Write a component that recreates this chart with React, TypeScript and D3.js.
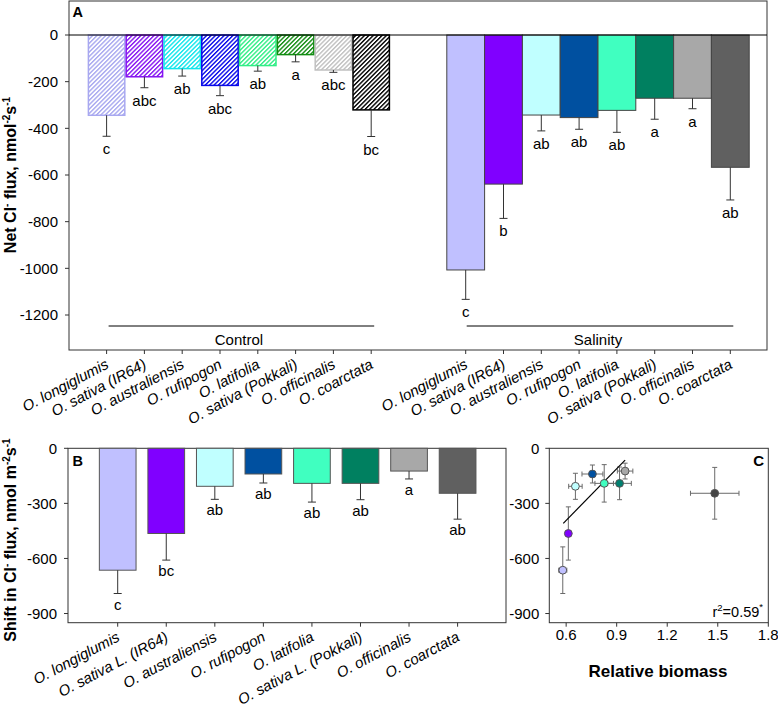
import React from 'react';
import * as d3 from 'd3';

const speciesA = ['O. longiglumis', 'O. sativa (IR64)', 'O. australiensis', 'O. rufipogon', 'O. latifolia', 'O. sativa (Pokkali)', 'O. officinalis', 'O. coarctata'];
const speciesB = ['O. longiglumis', 'O. sativa L. (IR64)', 'O. australiensis', 'O. rufipogon', 'O. latifolia', 'O. sativa L. (Pokkali)', 'O. officinalis', 'O. coarctata'];

const controlMean = [-344, -179, -144, -216, -131, -84, -150, -321];
const controlErr = [90, 47, 32, 44, 24, 31, 10, 114];
const controlLetters = ['c', 'abc', 'ab', 'abc', 'ab', 'a', 'abc', 'bc'];

const salinityMean = [-1007, -639, -343, -354, -323, -271, -271, -567];
const salinityErr = [126, 147, 68, 50, 94, 90, 45, 140];
const salinityLetters = ['c', 'b', 'ab', 'ab', 'ab', 'a', 'a', 'ab'];

const shiftMean = [-664, -464, -207, -140, -191, -191, -124, -245];
const shiftErr = [127, 145, 71, 49, 102, 89, 43, 141];
const shiftLetters = ['c', 'bc', 'ab', 'ab', 'ab', 'ab', 'a', 'ab'];

const biomass = [0.58, 0.613, 0.655, 0.756, 0.826, 0.917, 0.95, 1.482];
const biomassErr = [0.024, 0.01, 0.04, 0.062, 0.055, 0.07, 0.046, 0.144];

const regSlope = 940;
const regIntercept = -957;
const regRange = [0.583, 0.95];

const controlColors = ['#a8a8f0', '#8614f2', '#10e6ec', '#0808ea', '#30ee86', '#128c12', '#c0c0c0', '#000000'];
const salinityColors = ['#c0c0ff', '#8000ff', '#c0ffff', '#0050a0', '#40ffc0', '#008060', '#a8a8a8', '#606060'];
const dotColors = ['#c0c0ff', '#8000ff', '#c0ffff', '#0050a0', '#40ffc0', '#008070', '#a8a8a8', '#444444'];

const ticksA = [0, -200, -400, -600, -800, -1000, -1200];
const ticksB = [0, -300, -600, -900];
const ticksCx = [0.6, 0.9, 1.2, 1.5, 1.8];

const FONT = '"Liberation Sans", Arial, Helvetica, sans-serif';
const AX = '#333';

export default function App() {
  const W = 778, H = 709;

  // ---------- Panel A ----------
  const aL = 69, aR = 767, aT = 1, aB = 350;
  const yA = d3.scaleLinear().domain([-1350, 150]).range([aB, 0]);
  const xA = d3.scaleLinear().domain([0, 16.5]).range([106.6, 730.3]);
  const bwA = xA(1) - xA(0);
  const salOffset = 9.5;
  const ctrlPos = speciesA.map((_, i) => i);
  const salPos = speciesA.map((_, i) => i + salOffset);

  // ---------- Panel B ----------
  const bL = 68, bR = 506, bT = 448.3, bB = 622.7;
  const yB = d3.scaleLinear().domain([-950, 0]).range([bB, bT]);
  const xB = d3.scaleLinear().domain([0, 7]).range([117.7, 457.6]);
  const bwB = 36.7;

  // ---------- Panel C ----------
  const cL = 549.3, cR = 768.3, cT = 448.3, cB = 622.7;
  const yC = yB.copy().range([cB, cT]);
  const xC = d3.scaleLinear().domain([0.5, 1.8]).range([cL, cR]);
  const regLine = d3.line<number>().x(d => xC(d)).y(d => yC(regIntercept + regSlope * d));

  const fmt = (d: number) => String(d);

  const errBar = (x: number, y0: number, y1: number, key: string, cap = 8) => (
    <g key={key} stroke={AX} strokeWidth={1}>
      <line x1={x} x2={x} y1={y0} y2={y1} />
      <line x1={x - cap / 2} x2={x + cap / 2} y1={y1} y2={y1} />
    </g>
  );

  const rotLabel = (x: number, yBottom: number, text: string, key: string) => (
    <text key={key} transform={`translate(${x + 3},${yBottom + 17.5}) rotate(-28)`} textAnchor="end"
      fontSize={15} fontStyle="italic" fontFamily={FONT} fill="#000">{text}</text>
  );

  return (
    <svg width={W} height={H} style={{ position: 'absolute', left: 0, top: 0, background: '#fff' }} fontFamily={FONT}>
      <defs>
        {controlColors.map((c, i) => (
          <pattern key={i} id={`hatch-${i}`} patternUnits="userSpaceOnUse" width={3.1} height={3.1} patternTransform="rotate(45)">
            <rect width={3.1} height={3.1} fill="#fff" />
            <rect x={0} y={0} width={1.4} height={3.1} fill={c} />
          </pattern>
        ))}
      </defs>

      {/* ===== Panel A ===== */}
      <rect x={aL} y={aT} width={aR - aL} height={aB - aT} fill="none" stroke={AX} strokeWidth={1} />
      {ctrlPos.map((p, i) => {
        const x = xA(p), y = yA(controlMean[i]);
        return (
          <rect key={`c${i}`} x={x - bwA / 2 + 0.7} y={yA(0)} width={bwA - 1.4} height={y - yA(0)}
            fill={`url(#hatch-${i})`} stroke={controlColors[i]} strokeWidth={1.5} />
        );
      })}
      {salPos.map((p, i) => {
        const x = xA(p), y = yA(salinityMean[i]);
        return (
          <rect key={`s${i}`} x={x - bwA / 2} y={yA(0)} width={bwA} height={y - yA(0)}
            fill={salinityColors[i]} stroke="#444" strokeWidth={1} />
        );
      })}
      {ctrlPos.map((p, i) => errBar(xA(p), yA(controlMean[i]), yA(controlMean[i] - controlErr[i]), `ce${i}`))}
      {salPos.map((p, i) => errBar(xA(p), yA(salinityMean[i]), yA(salinityMean[i] - salinityErr[i]), `se${i}`))}
      {ctrlPos.map((p, i) => (
        <text key={`cl${i}`} x={xA(p)} y={yA(controlMean[i] - controlErr[i]) + 18} textAnchor="middle" fontSize={15}>{controlLetters[i]}</text>
      ))}
      {salPos.map((p, i) => (
        <text key={`sl${i}`} x={xA(p)} y={yA(salinityMean[i] - salinityErr[i]) + 18} textAnchor="middle" fontSize={15}>{salinityLetters[i]}</text>
      ))}
      <line x1={aL} x2={aR} y1={yA(0)} y2={yA(0)} stroke="#000" strokeWidth={1} />
      {ticksA.map(t => (
        <g key={`ta${t}`}>
          <line x1={aL - 4} x2={aL} y1={yA(t)} y2={yA(t)} stroke={AX} />
          <text x={aL - 11} y={yA(t)} dy="0.35em" textAnchor="end" fontSize={15}>{fmt(t)}</text>
        </g>
      ))}
      {[...ctrlPos, ...salPos].map((p, i) => (
        <line key={`txa${i}`} x1={xA(p)} x2={xA(p)} y1={aB} y2={aB + 4} stroke={AX} />
      ))}
      {ctrlPos.map((p, i) => rotLabel(xA(p), aB, speciesA[i], `lxc${i}`))}
      {salPos.map((p, i) => rotLabel(xA(p), aB, speciesA[i], `lxs${i}`))}
      <line x1={xA(ctrlPos[0]) + 2} x2={xA(ctrlPos[7]) + 3} y1={326} y2={326} stroke="#000" />
      <text x={(xA(ctrlPos[0]) + xA(ctrlPos[7])) / 2} y={345} textAnchor="middle" fontSize={15}>Control</text>
      <line x1={xA(salPos[0]) + 1} x2={xA(salPos[7]) + 3} y1={326} y2={326} stroke="#000" />
      <text x={(xA(salPos[0]) + xA(salPos[7])) / 2} y={345} textAnchor="middle" fontSize={15}>Salinity</text>
      <text x={72.5} y={17} fontSize={14.5} fontWeight="bold">A</text>
      <text transform="translate(16,175) rotate(-90)" textAnchor="middle" fontSize={16} fontWeight="bold">
        Net Cl<tspan fontSize={10} dy={-6}>-</tspan><tspan dy={6}> flux, nmol</tspan><tspan fontSize={10} dy={-6}>-2</tspan><tspan dy={6}>s</tspan><tspan fontSize={10} dy={-6}>-1</tspan>
      </text>

      {/* ===== Panel B ===== */}
      <rect x={bL} y={bT} width={bR - bL} height={bB - bT} fill="none" stroke={AX} strokeWidth={1} />
      {shiftMean.map((v, i) => (
        <rect key={`b${i}`} x={xB(i) - bwB / 2} y={yB(0)} width={bwB} height={yB(v) - yB(0)}
          fill={salinityColors[i]} stroke="#555" strokeWidth={1} />
      ))}
      {shiftMean.map((v, i) => errBar(xB(i), yB(v), yB(v - shiftErr[i]), `be${i}`))}
      {shiftMean.map((v, i) => (
        <text key={`bl${i}`} x={xB(i)} y={yB(v - shiftErr[i]) + 16} textAnchor="middle" fontSize={15}>{shiftLetters[i]}</text>
      ))}
      {ticksB.map(t => (
        <g key={`tb${t}`}>
          <line x1={bL - 4} x2={bL} y1={yB(t)} y2={yB(t)} stroke={AX} />
          <text x={bL - 11} y={yB(t)} dy="0.35em" textAnchor="end" fontSize={15}>{fmt(t)}</text>
        </g>
      ))}
      {speciesB.map((s, i) => (
        <g key={`txb${i}`}>
          <line x1={xB(i)} x2={xB(i)} y1={bB} y2={bB + 4} stroke={AX} />
          {rotLabel(xB(i), bB, s, `lb${i}`)}
        </g>
      ))}
      <text x={72.5} y={465.5} fontSize={14.5} fontWeight="bold">B</text>
      <text transform="translate(16,540) rotate(-90)" textAnchor="middle" fontSize={16} fontWeight="bold">
        Shift in Cl<tspan fontSize={10} dy={-6}>-</tspan><tspan dy={6}> flux, nmol m</tspan><tspan fontSize={10} dy={-6}>-2</tspan><tspan dy={6}>s</tspan><tspan fontSize={10} dy={-6}>-1</tspan>
      </text>

      {/* ===== Panel C ===== */}
      <rect x={cL} y={cT} width={cR - cL} height={cB - cT} fill="none" stroke={AX} strokeWidth={1} />
      {ticksB.map(t => (
        <g key={`tcy${t}`}>
          <line x1={cL - 4} x2={cL} y1={yC(t)} y2={yC(t)} stroke={AX} />
          <text x={cL - 10} y={yC(t)} dy="0.35em" textAnchor="end" fontSize={15}>{fmt(t)}</text>
        </g>
      ))}
      {ticksCx.map(t => (
        <g key={`tcx${t}`}>
          <line x1={xC(t)} x2={xC(t)} y1={cB} y2={cB + 4} stroke={AX} />
          <text x={xC(t)} y={640} textAnchor="middle" fontSize={15}>{t.toFixed(1)}</text>
        </g>
      ))}
      {biomass.map((b, i) => {
        const cx = xC(b), cy = yC(shiftMean[i]);
        const x0 = xC(b - biomassErr[i]), x1 = xC(b + biomassErr[i]);
        const y0 = yC(shiftMean[i] + shiftErr[i]), y1 = yC(shiftMean[i] - shiftErr[i]);
        return (
          <g key={`ce${i}`} stroke="#6a6a6a" strokeWidth={1}>
            <line x1={x0} x2={x1} y1={cy} y2={cy} />
            <line x1={x0} x2={x0} y1={cy - 2.5} y2={cy + 2.5} />
            <line x1={x1} x2={x1} y1={cy - 2.5} y2={cy + 2.5} />
            <line x1={cx} x2={cx} y1={y0} y2={y1} />
            <line x1={cx - 2.5} x2={cx + 2.5} y1={y0} y2={y0} />
            <line x1={cx - 2.5} x2={cx + 2.5} y1={y1} y2={y1} />
          </g>
        );
      })}
      <path d={regLine(regRange) || ''} fill="none" stroke="#000" strokeWidth={1.2} />
      {biomass.map((b, i) => (
        <circle key={`dot${i}`} cx={xC(b)} cy={yC(shiftMean[i])} r={3.9} fill={dotColors[i]} stroke="#555" strokeWidth={1} />
      ))}
      <text x={764} y={465.5} textAnchor="end" fontSize={15} fontWeight="bold">C</text>
      <text x={763} y={617} textAnchor="end" fontSize={14.5}>
        r<tspan fontSize={9.5} dy={-6}>2</tspan><tspan dy={6}>=0.59</tspan><tspan fontSize={9.5} dy={-7}>*</tspan>
      </text>
      <text x={658} y={677} textAnchor="middle" fontSize={17} fontWeight="bold">Relative biomass</text>
    </svg>
  );
}
